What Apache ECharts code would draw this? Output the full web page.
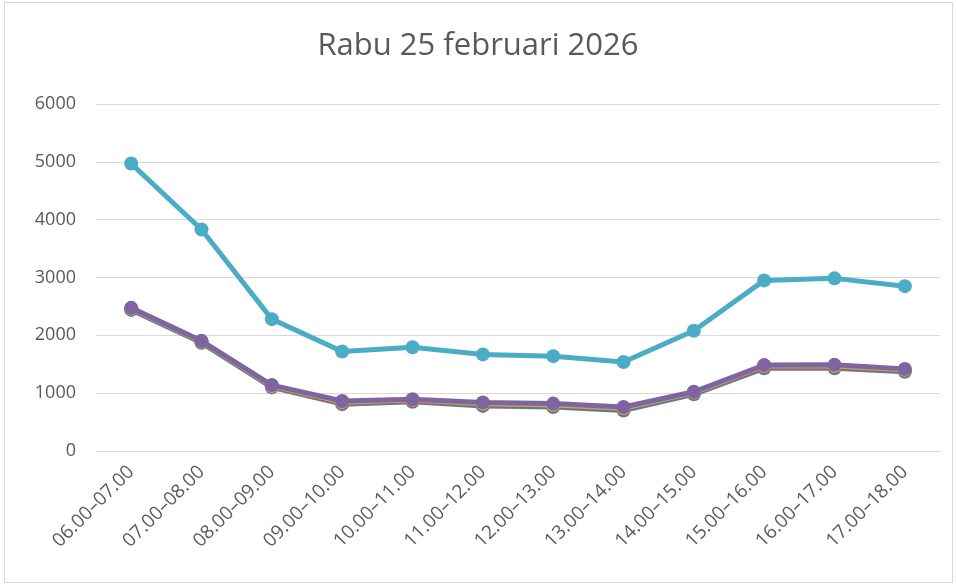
<!DOCTYPE html>
<html><head><meta charset="utf-8">
<script src="https://cdn.jsdelivr.net/npm/echarts@6/dist/echarts.min.js"></script>
<style>html,body{margin:0;padding:0;background:#fff}#c{width:956px;height:586px}</style>
</head><body><div id="c"></div>
<script>
const categories = ['06.00–07.00','07.00–08.00','08.00–09.00','09.00–10.00','10.00–11.00','11.00–12.00','12.00–13.00','13.00–14.00','14.00–15.00','15.00–16.00','16.00–17.00','17.00–18.00'];
const seriesBlue   = [2440, 1870, 1100, 810, 850, 780, 760, 700, 980, 1430, 1430, 1370];
const seriesRed    = [2455, 1885, 1115, 830, 865, 800, 780, 720, 1000, 1450, 1450, 1390];
const seriesGreen  = [2465, 1895, 1125, 845, 880, 815, 795, 740, 1010, 1470, 1470, 1405];
const seriesPurple = [2475, 1905, 1140, 865, 895, 840, 820, 760, 1025, 1485, 1490, 1420];
const seriesAqua   = [4970, 3830, 2280, 1720, 1795, 1670, 1640, 1540, 2080, 2950, 2985, 2850];
const yTicks = [0, 1000, 2000, 3000, 4000, 5000, 6000];

const colors = ['#4F81BD', '#C0504D', '#9BBB59', '#8064A2', '#4BACC6'];
const data = [seriesBlue, seriesRed, seriesGreen, seriesPurple, seriesAqua];
const chart = echarts.init(document.getElementById('c'));
chart.setOption({
  animation: false,
  title: { text: 'Rabu 25 februari 2026', left: 'center', top: 26,
    textStyle: { fontFamily: 'Open Sans', fontSize: 31, fontWeight: 'normal', color: '#595959' } },
  graphic: [{ type: 'rect', shape: { x: 4.5, y: 2.5, width: 948, height: 580 },
    style: { fill: 'none', stroke: '#d9d9d9', lineWidth: 1 }, silent: true }],
  grid: { left: 96, right: 16, top: 104, bottom: 135, containLabel: false },
  xAxis: { type: 'category', data: categories, boundaryGap: true,
    axisLine: { show: true, lineStyle: { color: '#d9d9d9', width: 1 } },
    axisTick: { show: false },
    axisLabel: { rotate: 45, interval: 0, margin: 18, color: '#595959', fontFamily: 'Open Sans', fontSize: 19 } },
  yAxis: { type: 'value', min: yTicks[0], max: yTicks[yTicks.length-1], interval: 1000,
    axisLine: { show: false }, axisTick: { show: false },
    splitLine: { lineStyle: { color: '#d9d9d9', width: 1 } },
    axisLabel: { margin: 20, color: '#595959', fontFamily: 'Open Sans', fontSize: 18, formatter: v => String(v) } },
  series: data.map((d, i) => ({
    type: 'line', data: d, symbol: 'circle', symbolSize: 14,
    lineStyle: { width: 5, color: colors[i] },
    itemStyle: { color: colors[i] }, z: 2 + i
  }))
});
</script></body></html>
